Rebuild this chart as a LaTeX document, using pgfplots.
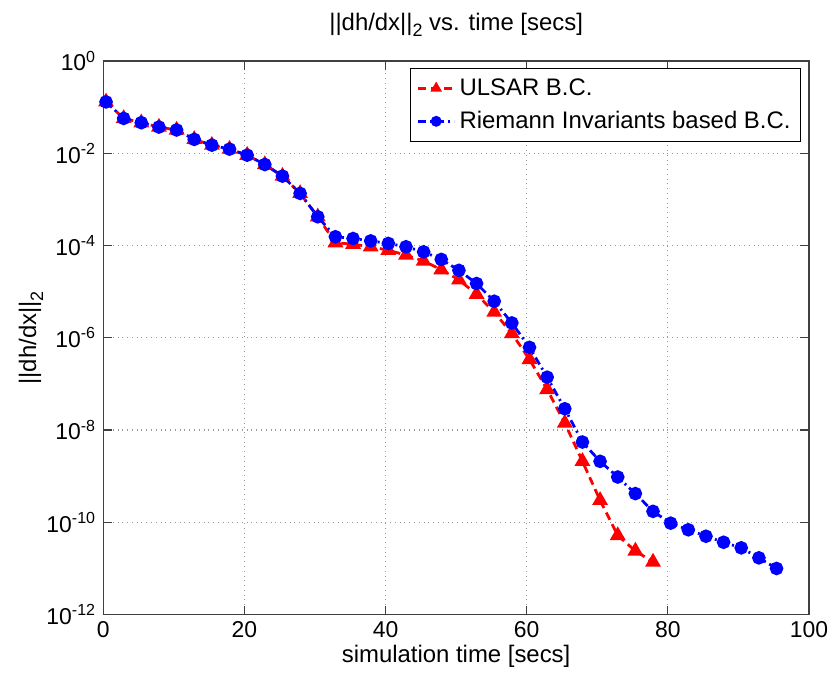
\documentclass[border=0pt]{standalone}
\usepackage{fontspec}
\setmainfont{Liberation Sans}
\usepackage{pgfplots}
\pgfplotsset{compat=1.18}
\newcommand{\subtwo}{\raisebox{-0.55ex}{\fontsize{9}{10}\selectfont 2}}
\pgfplotstableread{
x y
0.4 0.13
2.9 0.057
5.4 0.046
7.9 0.037
10.4 0.032
12.9 0.020
15.4 0.015
17.9 0.0123
20.4 0.0091
22.9 0.0057
25.4 0.0032
27.9 0.00135
30.4 4.2e-4
32.9 1.15e-4
35.4 1.07e-4
37.9 9.4e-5
40.4 7.9e-5
42.9 6.2e-5
45.4 4.6e-5
47.9 3.0e-5
50.4 1.8e-5
52.9 8.8e-6
55.4 3.6e-6
57.9 1.24e-6
60.4 3.4e-7
62.9 7.6e-8
65.4 1.42e-8
67.9 2.1e-9
70.4 3.0e-10
72.9 5.2e-11
75.4 2.4e-11
77.9 1.38e-11
}\ulsar
\pgfplotstableread{
x y
0.4 0.13
2.9 0.057
5.4 0.046
7.9 0.037
10.4 0.032
12.9 0.020
15.4 0.015
17.9 0.0123
20.4 0.0091
22.9 0.0057
25.4 0.0032
27.9 0.00135
30.4 4.2e-4
32.9 1.55e-4
35.4 1.42e-4
37.9 1.26e-4
40.4 1.11e-4
42.9 9.4e-5
45.4 7.3e-5
47.9 5.0e-5
50.4 2.9e-5
52.9 1.5e-5
55.4 6.2e-6
57.9 2.1e-6
60.4 6.2e-7
62.9 1.4e-7
65.4 2.9e-8
67.9 5.5e-9
70.4 2.1e-9
72.9 9.6e-10
75.4 4.2e-10
77.9 1.73e-10
80.4 9.6e-11
82.9 6.9e-11
85.4 5.0e-11
87.9 3.7e-11
90.4 2.8e-11
92.9 1.7e-11
95.4 1.0e-11
}\riemann
\begin{document}
\begin{tikzpicture}
\begin{axis}[
  name=ax,
  scale only axis,
  width=352.9bp, height=276.8bp,
  xmin=0, xmax=100,
  ymode=log, ymin=1e-12, ymax=1,
  xtick={0,20,40,60,80,100},
  ytick={1e-12,1e-10,1e-8,1e-6,1e-4,1e-2,1},
  yticklabels={10\textsuperscript{-12},10\textsuperscript{-10},10\textsuperscript{-8},10\textsuperscript{-6},10\textsuperscript{-4},10\textsuperscript{-2},10\textsuperscript{0}},
  yminorticks=false,
  /pgf/number format/assume math mode=true,
  tick label style={font=\fontsize{11.5}{13}\selectfont},
  grid=major,
  major grid style={gray!80, dotted, line width=0.6pt},
  axis line style={black!75, line width=0.6pt},
  major tick length=4.5bp,
  tick style={black!75, line width=0.6pt},
  every axis title/.style={at={(axis description cs:0.5,1.056)}, anchor=base, font=\fontsize{12}{14}\selectfont},
  title={||dh/dx||\subtwo{} vs. time [secs]},
  every axis x label/.style={at={(axis description cs:0.5,-0.0866)}, anchor=base, font=\fontsize{12}{14}\selectfont},
  xlabel={simulation time [secs]},
  every axis y label/.style={at={(axis description cs:-0.0949,0.5)}, rotate=90, anchor=base, font=\fontsize{12}{14}\selectfont},
  ylabel={||dh/dx||\subtwo},
  legend cell align=left,
  legend style={at={(axis description cs:1,1)}, anchor=north east, xshift=-4bp, yshift=-3.5bp,
    draw=black, line width=0.5pt, font=\fontsize{12}{14}\selectfont,
    inner xsep=3bp, inner ysep=3bp, row sep=2.5bp},
  legend image code/.code={\draw[mark repeat=2,mark phase=2,mark size=2bp] plot coordinates {(0bp,0bp)(9bp,0bp)(18bp,0bp)};},
]
\addplot[red, line width=1.4pt, dash pattern=on 4bp off 2.5bp, mark=triangle*, mark size=3.2bp, mark options={solid, fill=red}] table {\ulsar};
\addlegendentry{ULSAR B.C.}
\addplot[blue, line width=1.4pt, dash pattern=on 4bp off 2bp on 1bp off 2bp, mark=*, mark size=2.7bp, mark options={solid, fill=blue}] table {\riemann};
\addlegendentry{Riemann Invariants based B.C.}
\end{axis}
\pgfresetboundingbox
\path ([shift={(-51.6bp,-30.2bp)}]ax.south west) rectangle ([shift={(12bp,30.5bp)}]ax.north east);
\end{tikzpicture}
\end{document}
